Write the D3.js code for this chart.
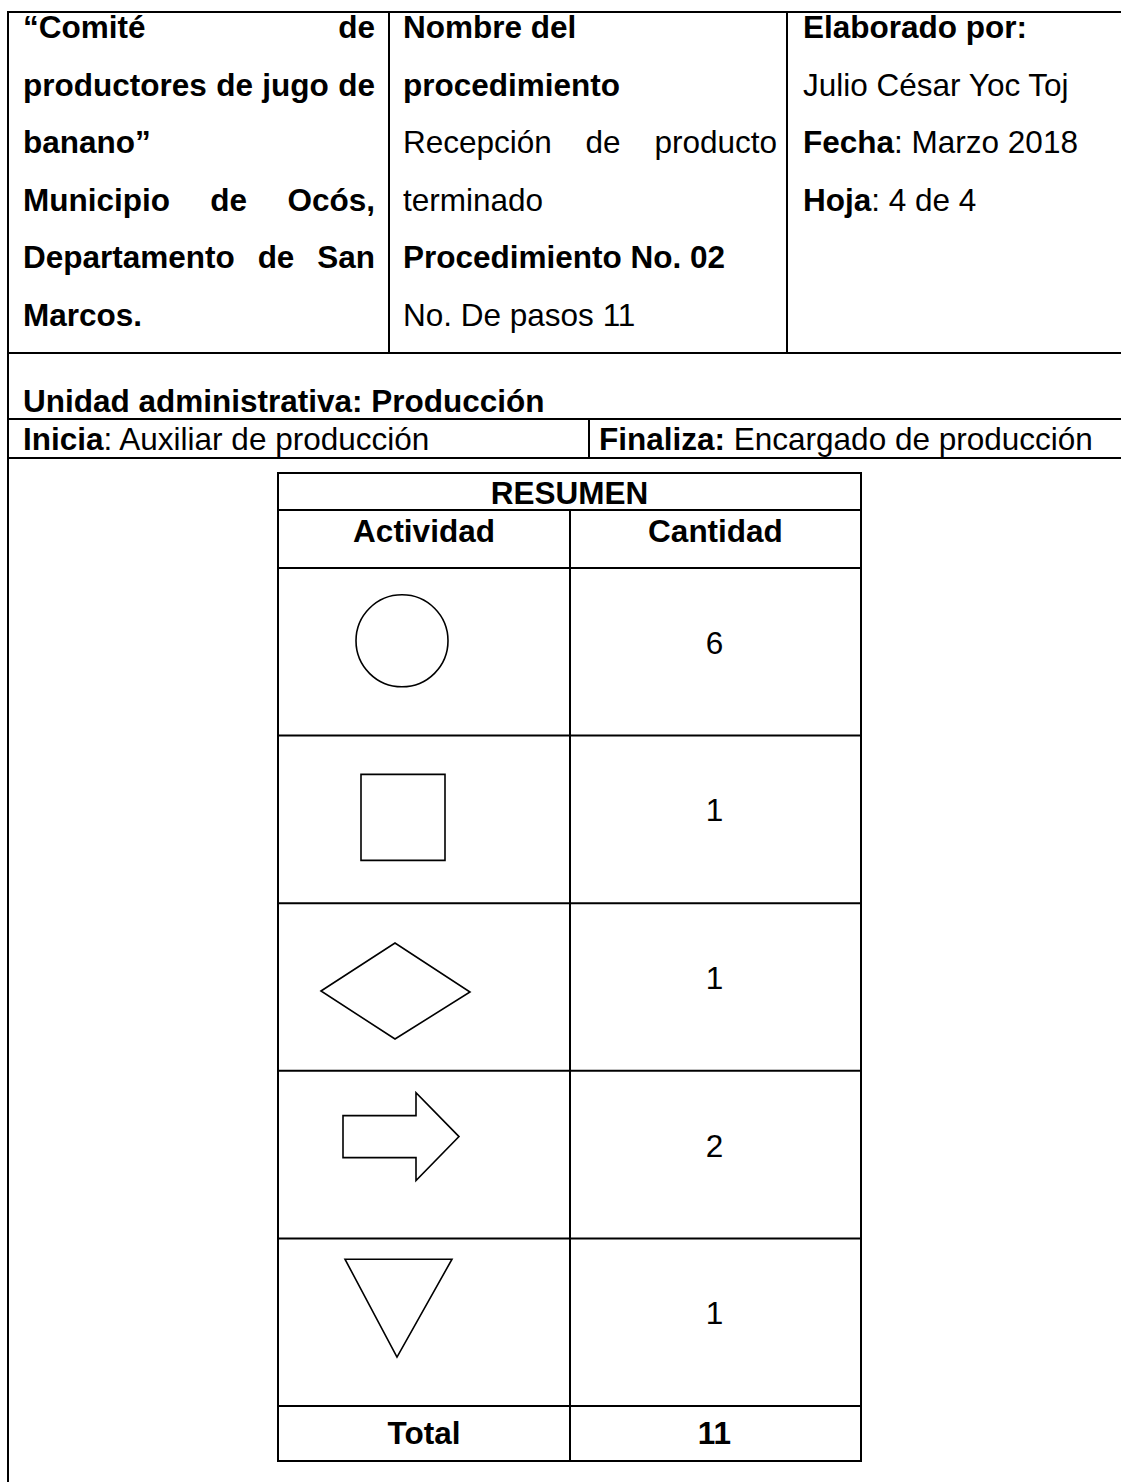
<!DOCTYPE html>
<html><head><meta charset="utf-8">
<script src="https://cdn.jsdelivr.net/npm/d3@7"></script>
<style>
body{margin:0;background:#fff}
svg{display:block}
text{font-family:"Liberation Sans",Arial,sans-serif;fill:#000}
</style>
</head><body>
<svg id="c" width="1121" height="1482"></svg>
<script>
// ---- data ----
const headerCol1 = ["*“Comité de*", "*productores de jugo de*", "*banano”*", "*Municipio de Ocós,*", "*Departamento de San*", "*Marcos.*"];
const justifyCol1 = [true, true, false, true, true, false];
const headerCol2 = ["*Nombre del*", "*procedimiento*", "Recepción de producto", "terminado", "*Procedimiento No. 02*", "No. De pasos 11"];
const justifyCol2 = [false, false, true, false, false, false];
const headerCol3 = ["*Elaborado por:*", "Julio César Yoc Toj", "*Fecha*: Marzo 2018", "*Hoja*: 4 de 4"];
const unitLine = "*Unidad administrativa: Producción*";
const startLine = "*Inicia*: Auxiliar de producción";
const endLine = "*Finaliza:* Encargado de producción";
const summaryTitle = "RESUMEN";
const columnLabels = ["Actividad", "Cantidad"];
const activities = ["circle", "square", "diamond", "arrow", "triangle"];
const quantities = [6, 1, 1, 2, 1];
const totalLabel = "Total";

// ---- drawing ----
const svg = d3.select("#c");
const FS = 31.5;

function parse(line){
  const words = []; let bold = false, cur = [], buf = "";
  const flush = () => { if (buf) { cur.push([buf, bold]); buf = ""; } };
  for (const ch of line) {
    if (ch === "*") { flush(); bold = !bold; }
    else if (ch === " ") { flush(); if (cur.length) { words.push(cur); cur = []; } }
    else buf += ch;
  }
  flush(); if (cur.length) words.push(cur);
  return words;
}
function addSegs(t, segs){
  segs.forEach(([s, b]) => t.append("tspan").attr("font-weight", b ? "bold" : "normal").text(s));
}
function drawLine(line, x0, x1, y, justify){
  const words = parse(line);
  if (justify && words.length > 1) {
    const nodes = words.map(w => {
      const t = svg.append("text").attr("y", y).attr("font-size", FS).attr("x", 0);
      addSegs(t, w); return t;
    });
    const widths = nodes.map(n => n.node().getComputedTextLength());
    const gap = (x1 - x0 - d3.sum(widths)) / (words.length - 1);
    let x = x0;
    nodes.forEach((n, i) => { n.attr("x", x); x += widths[i] + gap; });
  } else {
    const t = svg.append("text").attr("x", x0).attr("y", y).attr("font-size", FS);
    const segs = [];
    words.forEach((w, i) => w.forEach(([s, b], j) => {
      const last = j === w.length - 1 && i < words.length - 1;
      segs.push([s + (last ? " " : ""), b]);
    }));
    t.attr("xml:space", "preserve");
    addSegs(t, segs);
  }
}

// header rows
const rowY = d3.scaleLinear().domain([0, 5]).range([38, 326]);
headerCol1.forEach((l, i) => drawLine(l, 23, 375, rowY(i), justifyCol1[i]));
headerCol2.forEach((l, i) => drawLine(l, 403, 777, rowY(i), justifyCol2[i]));
headerCol3.forEach((l, i) => drawLine(l, 803, 1110, rowY(i), false));
drawLine(unitLine, 23, 600, 412, false);
drawLine(startLine, 23, 580, 450, false);
drawLine(endLine, 599, 1110, 450, false);

// header frame lines
const lines = [
  [8, 12, 1121, 12], [8, 12, 8, 1482], [389, 12, 389, 353], [787, 12, 787, 353],
  [8, 353, 1121, 353], [8, 419, 1121, 419], [8, 458, 1121, 458], [589, 419, 589, 458]
];

// summary table
const tx0 = 278, tx1 = 861, tmid = 570;
const yRow = d3.scaleBand().domain(activities).range([568, 1406]);
const tTop = 473, tTitle = 510, tBottom = 1461;
lines.push([tx0, tTop, tx1, tTop], [tx0, tTitle, tx1, tTitle], [tx0, tBottom, tx1, tBottom],
  [tx0, tTop, tx0, tBottom], [tx1, tTop, tx1, tBottom], [tmid, tTitle, tmid, tBottom], [tx0, 568, tx1, 568]);
activities.forEach(a => lines.push([tx0, yRow(a) + yRow.bandwidth(), tx1, yRow(a) + yRow.bandwidth()]));

svg.append("g").selectAll("line").data(lines).join("line")
  .attr("x1", d => d[0]).attr("y1", d => d[1]).attr("x2", d => d[2]).attr("y2", d => d[3])
  .attr("stroke", "#000").attr("stroke-width", 2).attr("stroke-linecap", "square");

svg.append("text").attr("x", (tx0 + tx1) / 2).attr("y", 504).attr("text-anchor", "middle")
  .attr("font-size", FS).attr("font-weight", "bold").text(summaryTitle);
svg.append("text").attr("x", (tx0 + tmid) / 2).attr("y", 542).attr("text-anchor", "middle")
  .attr("font-size", FS).attr("font-weight", "bold").text(columnLabels[0]);
svg.append("text").attr("x", (tmid + tx1) / 2).attr("y", 542).attr("text-anchor", "middle")
  .attr("font-size", FS).attr("font-weight", "bold").text(columnLabels[1]);

// quantities
svg.append("g").selectAll("text").data(activities).join("text")
  .attr("x", (tmid + tx1) / 2 - 1)
  .attr("y", d => yRow(d) + yRow.bandwidth() / 2 + 2)
  .attr("text-anchor", "middle").attr("font-size", FS)
  .text((d, i) => quantities[i]);

// total
svg.append("text").attr("x", (tx0 + tmid) / 2).attr("y", 1444).attr("text-anchor", "middle")
  .attr("font-size", FS).attr("font-weight", "bold").text(totalLabel);
svg.append("text").attr("x", (tmid + tx1) / 2 - 1).attr("y", 1444).attr("text-anchor", "middle")
  .attr("font-size", FS).attr("font-weight", "bold").text(d3.sum(quantities));

// symbols
const sx = 400;
function shapePath(a, cy){
  const p = d3.path();
  if (a === "circle") { p.arc(sx + 2, cy - 11, 46, 0, 2 * Math.PI); p.closePath(); }
  else if (a === "square") { p.rect(sx - 39, cy - 45, 84, 86); }
  else if (a === "diamond") {
    const c = cy + 4;
    p.moveTo(sx - 79, c); p.lineTo(sx - 5, c - 48); p.lineTo(sx + 70, c + 1); p.lineTo(sx - 5, c + 48); p.closePath();
  } else if (a === "arrow") {
    const c = cy - 18;
    p.moveTo(sx - 57, c - 21); p.lineTo(sx + 16, c - 21); p.lineTo(sx + 16, c - 44); p.lineTo(sx + 59, c);
    p.lineTo(sx + 16, c + 44); p.lineTo(sx + 16, c + 21); p.lineTo(sx - 57, c + 21); p.closePath();
  } else if (a === "triangle") {
    p.moveTo(sx - 55, cy - 63); p.lineTo(sx + 52, cy - 63); p.lineTo(sx - 3, cy + 35); p.closePath();
  }
  return p.toString();
}
svg.append("g").selectAll("path").data(activities).join("path")
  .attr("d", d => shapePath(d, yRow(d) + yRow.bandwidth() / 2))
  .attr("fill", "none").attr("stroke", "#000").attr("stroke-width", 1.6).attr("stroke-linejoin", "miter");
</script>
</body></html>
